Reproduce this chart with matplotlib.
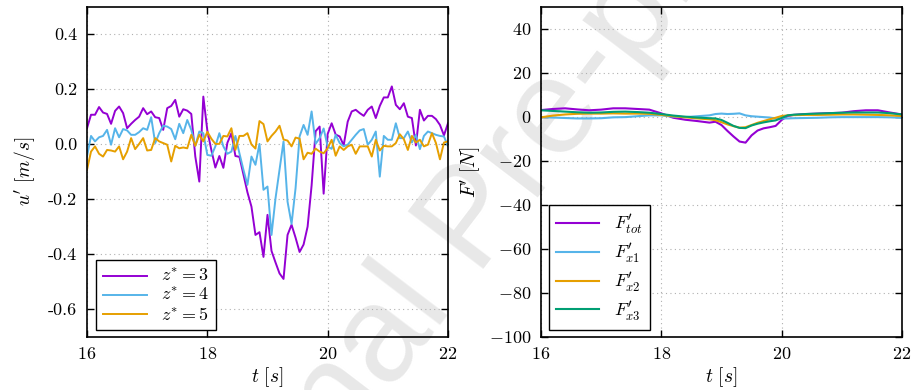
import matplotlib
matplotlib.use('Agg')
import matplotlib.pyplot as plt
import numpy as np
from matplotlib.ticker import FormatStrFormatter

plt.rcParams['font.family'] = 'serif'
plt.rcParams['font.serif'] = ['cmr10']
plt.rcParams['mathtext.fontset'] = 'cm'
plt.rcParams['axes.unicode_minus'] = False
plt.rcParams['axes.formatter.use_mathtext'] = True

PURPLE = '#9400D3'
BLUE = '#56B4E9'
ORANGE = '#E69F00'
GREEN = '#009E73'

# left panel: velocity fluctuations, sampled at 15 Hz
t_u = np.linspace(16, 22, 91)
u_z3 = [0.058, 0.107, 0.107, 0.135, 0.115, 0.11, 0.074, 0.121, 0.137, 0.113,
        0.058, 0.074, 0.088, 0.10, 0.131, 0.109, 0.119, 0.098, 0.095, 0.052,
        0.131, 0.139, 0.161, 0.10, 0.127, 0.122, 0.11, -0.045, -0.136, 0.173,
        0.05, -0.021, -0.085, -0.043, -0.086, 0.005, 0.04, -0.043, -0.046, -0.11,
        -0.175, -0.227, -0.33, -0.32, -0.41, -0.257, -0.388, -0.43, -0.47, -0.49,
        -0.33, -0.293, -0.34, -0.392, -0.365, -0.30, -0.15, 0.047, 0.064, -0.18,
        0.037, 0.076, 0.035, 0.028, -0.004, 0.082, 0.119, 0.125, 0.113, 0.103,
        0.125, 0.137, 0.095, 0.139, 0.17, 0.17, 0.21, 0.143, 0.127, 0.149,
        0.10, 0.095, -0.005, 0.125, 0.086, 0.103, 0.103, 0.091, 0.07, 0.032,
        0.076]
u_z4 = [-0.045, 0.03, 0.01, 0.025, 0.03, 0.052, -0.002, 0.058, 0.025, 0.055,
        0.05, 0.034, 0.034, 0.044, 0.058, 0.052, 0.098, 0.004, 0.04, 0.067,
        0.064, 0.055, 0.018, 0.074, 0.04, 0.088, 0.052, -0.006, 0.046, 0.04,
        -0.039, -0.042, -0.008, 0.04, -0.008, -0.035, -0.027, 0.03, -0.033, -0.093,
        -0.148, -0.045, -0.075, 0.001, -0.166, -0.154, -0.33, -0.197, -0.093, 0.01,
        -0.209, -0.29, -0.16, 0.028, 0.07, 0.034, 0.119, 0.001, 0.022, 0.057,
        -0.009, -0.017, 0.034, 0.004, -0.008, -0.002, 0.016, 0.034, 0.05, 0.055,
        -0.002, 0.016, 0.046, -0.118, 0.03, 0.016, 0.016, 0.076, 0.022, 0.022,
        0.046, 0.006, 0.034, -0.018, 0.03, 0.046, 0.04, 0.034, 0.03, 0.028,
        -0.008]
u_z5 = [-0.093, -0.027, -0.008, -0.035, -0.045, -0.021, -0.023, -0.027, -0.008, -0.055,
        -0.027, 0.022, -0.018, 0.001, 0.022, -0.023, -0.021, 0.022, 0.01, 0.004,
        -0.002, -0.063, -0.006, -0.015, -0.012, -0.015, 0.034, -0.006, 0.034, 0.01,
        0.045, 0.02, 0.001, 0.001, 0.03, 0.028, 0.058, -0.021, 0.03, 0.03,
        0.04, -0.001, -0.016, 0.084, 0.073, 0.01, 0.03, 0.046, 0.067, 0.017,
        0.013, -0.008, 0.024, 0.02, -0.055, -0.031, -0.035, -0.016, -0.027, -0.033,
        -0.015, 0.016, -0.042, -0.008, -0.021, -0.008, -0.002, -0.035, -0.008, -0.008,
        -0.008, -0.045, 0.016, -0.023, -0.006, -0.008, -0.008, 0.004, 0.036, 0.018,
        -0.021, 0.03, 0.006, 0.016, -0.008, -0.002, 0.04, 0.004, -0.055, 0.006,
        0.01]
u_labels = [r'$z^{*}=3$', r'$z^{*}=4$', r'$z^{*}=5$']

# right panel: force fluctuations
t_f = [16.0, 16.2, 16.4, 16.6, 16.8, 17.0, 17.2, 17.4, 17.6, 17.8,
       18.0, 18.2, 18.4, 18.6, 18.8, 18.9, 19.0, 19.1, 19.2, 19.3,
       19.4, 19.5, 19.6, 19.7, 19.8, 19.9, 20.0, 20.1, 20.2, 20.4,
       20.6, 20.8, 21.0, 21.2, 21.4, 21.6, 21.8, 22.0]
f_tot = [3.0, 3.5, 3.8, 3.3, 2.9, 3.2, 3.8, 3.8, 3.5, 3.2,
         1.5, -0.5, -1.4, -2.0, -2.7, -2.3, -3.8, -6.5, -9.0, -11.3,
         -11.8, -8.5, -6.3, -5.3, -4.8, -4.2, -1.5, 0.3, 0.8, 1.2,
         1.4, 1.6, 1.8, 2.5, 2.9, 2.9, 1.9, 1.0]
f_x1 = [-0.2, -0.4, -0.6, -0.8, -0.8, -0.7, -0.3, -0.2, 0.2, 0.6,
        0.6, 0.0, -0.2, 0.2, 0.6, 1.2, 1.4, 1.2, 1.3, 1.5,
        0.6, 0.2, 0.0, -0.2, -0.4, -0.8, -0.8, -0.8, -0.7, -0.6,
        -0.5, -0.3, -0.2, -0.2, -0.2, -0.2, -0.3, -0.5]
f_x2 = [-0.3, 0.5, 1.0, 1.3, 1.4, 1.4, 1.5, 1.4, 1.4, 1.3,
        0.8, 0.2, -0.3, -0.8, -1.2, -1.6, -2.5, -3.5, -4.3, -5.0,
        -4.8, -3.8, -2.8, -2.0, -1.2, -0.5, 0.3, 0.6, 0.7, 0.8,
        0.8, 0.9, 1.0, 1.0, 0.9, 0.8, 0.6, 0.3]
f_x3 = [2.9, 2.6, 2.3, 2.0, 1.8, 1.9, 2.2, 2.3, 2.1, 1.8,
        1.2, 0.5, 0.0, -0.4, -0.7, -0.8, -1.5, -2.8, -4.2, -5.1,
        -5.2, -4.0, -3.2, -2.6, -2.1, -1.7, -0.6, 0.6, 0.9, 1.2,
        1.4, 1.6, 1.8, 1.9, 1.9, 1.9, 1.6, 1.0]
f_labels = [r"$F^{\prime}_{tot}$", r"$F^{\prime}_{x1}$",
            r"$F^{\prime}_{x2}$", r"$F^{\prime}_{x3}$"]


def style_axes(ax):
    ax.set_facecolor('none')
    ax.tick_params(direction='in', length=5, width=1, top=True, right=True,
                   labelsize=13, pad=7)
    for sp in ax.spines.values():
        sp.set_linewidth(1.2)
    ax.grid(True, linestyle=(0, (1, 3)), color='#b0b0b0', linewidth=0.8)
    ax.set_xlim(16, 22)
    ax.set_xticks([16, 18, 20, 22])
    ax.set_xlabel(r'$t\ [s]$', fontsize=14, labelpad=2)


fig = plt.figure(figsize=(9.12, 3.9), dpi=100)

# faint watermark behind the panels
fig.text(0.52, 0.43, 'Journal Pre-proof', family='Liberation Sans',
         fontsize=99, color='#e8e8e8', rotation=52.7, rotation_mode='anchor',
         ha='center', va='center', zorder=-1)

ax1 = fig.add_axes([0.0954, 0.1367, 0.3958, 0.8462])
ax2 = fig.add_axes([0.5932, 0.1367, 0.3958, 0.8462])

for ax in (ax1, ax2):
    style_axes(ax)

for vals, col, lab in zip([u_z3, u_z4, u_z5], [PURPLE, BLUE, ORANGE], u_labels):
    ax1.plot(t_u, vals, color=col, linewidth=1.4, label=lab)
ax1.set_ylim(-0.7, 0.5)
ax1.set_yticks([-0.6, -0.4, -0.2, 0.0, 0.2, 0.4])
ax1.yaxis.set_major_formatter(FormatStrFormatter('%.1f'))
ax1.set_ylabel(r"$u^{\prime}\ [m/s]$", fontsize=14, labelpad=8)
leg1 = ax1.legend(loc='lower left', bbox_to_anchor=(0.025, 0.02), borderaxespad=0,
                  fontsize=13, fancybox=False, edgecolor='black', framealpha=1,
                  handlelength=2.4, labelspacing=0.1, borderpad=0.4)
leg1.get_frame().set_linewidth(1.0)

for vals, col, lab in zip([f_tot, f_x1, f_x2, f_x3], [PURPLE, BLUE, ORANGE, GREEN], f_labels):
    ax2.plot(t_f, vals, color=col, linewidth=1.5, label=lab)
ax2.set_ylim(-100, 50)
ax2.set_yticks([-100, -80, -60, -40, -20, 0, 20, 40])
ax2.set_ylabel(r"$F^{\prime}\ [N]$", fontsize=14, labelpad=4)
leg2 = ax2.legend(loc='lower left', bbox_to_anchor=(0.022, 0.02), borderaxespad=0,
                  fontsize=13, fancybox=False, edgecolor='black', framealpha=1,
                  handlelength=2.4, labelspacing=0.3, borderpad=0.4)
leg2.get_frame().set_linewidth(1.0)

fig.savefig('out.png', dpi=100)
